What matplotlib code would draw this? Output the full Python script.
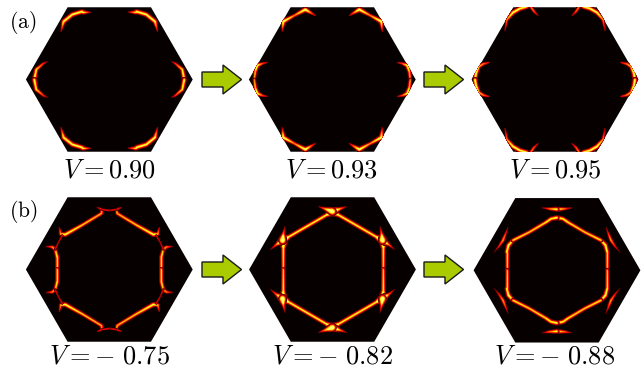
import numpy as np
import matplotlib
matplotlib.use('Agg')
import matplotlib.pyplot as plt
from matplotlib.collections import LineCollection
from matplotlib.patches import Polygon, FancyArrow

plt.rcParams['mathtext.fontset'] = 'cm'

# V values under each panel
top_labels = [r'$V = 0.90$', r'$V = 0.93$', r'$V = 0.95$']
bottom_labels = [r'$V = -\ 0.75$', r'$V = -\ 0.82$', r'$V = -\ 0.88$']

# bright curves, upper right quadrant only, the rest is mirrored
# each point is x, y (up is negative), brightness
a1_curves = [
    [(75, 0, 1), (73, -10, .9), (66, -16, .55), (62, -18, .2)],
    [(19, -68, .3), (27, -68, 1), (37, -65, 1), (45.7, -58, 1), (48.3, -48, .3)],
]
a2_curves = [
    [(78, 0, .7), (77, -8, .8), (75, -14, 1), (70, -16, .6), (65, -17, .3)],
    [(17, -64, .3), (22, -67, .7), (27, -70, 1.1), (38, -64, .7), (49, -58, 1.1), (50, -48, .3)],
]
a3_curves = [
    [(80, 0, 1), (79, -6, 1), (76, -13, .8), (72, -15.5, .7), (66, -17, .4)],
    [(50, -49, .3), (48, -60, .7), (42, -67, 1), (35, -71, 1), (28, -73, 1)],
    [(24, -72.5, .7), (21, -68, .6), (17, -64, .3)],
]
b1_curves = [
    [(52, 0, .9), (52, -12, .9), (54, -20, .8), (57, -22.5, .7), (63, -23, .3)],
    [(12, -62, .3), (7, -60, .6), (8, -56, .8), (27, -44.5, .85), (44, -35, 1), (48.5, -35.5, .8), (50, -42, .3)],
    [(0, -59, .45), (7, -60, .45)],
    [(47, -34, .45), (51, -27, .35), (54, -20, .45)],
]
b2_curves = [
    [(50, 0, .85), (50, -22, .95), (50, -29, 1.7)],
    [(0, -58, 1.7), (6, -54.5, .95), (44, -32.5, .95), (50, -29, 1.7)],
    [(0, -58, 1.7), (7, -60.5, .8), (14, -63, .2)],
    [(50, -29, 1.7), (56, -25, .7), (62, -20, .2)],
    [(50, -29, 1.7), (49, -36, .7), (47.5, -43, .2)],
]
b3_curves = [
    [(50.3, 0, .85), (50.3, -18, .9), (48.5, -25, 1), (44, -30, .9)],
    [(0, -52.7, 1), (6, -51.5, .9), (11, -48, .9), (28, -38, .85), (44, -30, .9)],
    [(0, -61, 1), (8, -61.5, .65), (15, -62.5, .2)],
    [(49, -43, .2), (52, -35, .6), (54, -30, .75), (58, -24, .5), (63, -18, .15)],
]

top_curves = [a1_curves, a2_curves, a3_curves]
bottom_curves = [b1_curves, b2_curves, b3_curves]

WIDTH, HEIGHT = 644, 368
RADIUS = 83.4
top_centers = [(109.3, 79.5), (332.3, 79.5), (555, 79.5)]
bottom_centers = [(109.3, 269.5), (332.5, 269.5), (557, 270.3)]
label_x = [[109, 331, 555], [109, 332.7, 555]]
label_y = [178, 363.5]

# layers from the wide dim glow to the thin hot core
layers = [(3.8, .1), (3, .22), (2.3, .36), (1.7, .5), (1.1, .66), (.6, .82)]


def densify(curve):
    pts = np.array(curve, dtype=float)
    s = np.arange(len(pts))
    t = np.linspace(0, len(pts) - 1, 16 * (len(pts) - 1) + 1)
    return np.column_stack([np.interp(t, s, pts[:, i]) for i in range(3)])


def draw_curve(ax, curve, clip):
    pts = densify(curve)
    for mx, my in [(1, 1), (-1, 1), (1, -1), (-1, -1)]:
        xy = pts[:, :2] * [mx, my]
        segs = np.stack([xy[:-1], xy[1:]], axis=1)
        w = (pts[:-1, 2] + pts[1:, 2]) / 2
        for lw, level in layers:
            lc = LineCollection(segs, cmap='hot', norm=plt.Normalize(0, 1), capstyle='round')
            lc.set_array(np.clip(level * w, 0, .86))
            lc.set_linewidths(lw * np.clip(w, .25, 1.8))
            lc.set_clip_path(clip)
            ax.add_collection(lc)


def draw_panel(fig, center, curves):
    cx, cy = center
    pad = RADIUS + 2
    ax = fig.add_axes([(cx - pad) / WIDTH, 1 - (cy + pad) / HEIGHT, 2 * pad / WIDTH, 2 * pad / HEIGHT])
    ax.set_xlim(-pad, pad)
    ax.set_ylim(pad, -pad)
    ax.axis('off')
    ang = np.radians(np.arange(0, 360, 60))
    hexagon = Polygon(np.column_stack([RADIUS * np.cos(ang), RADIUS * np.sin(ang)]),
                      closed=True, fc='#060000', ec='none')
    ax.add_patch(hexagon)
    for curve in curves:
        draw_curve(ax, curve, hexagon)


fig = plt.figure(figsize=(WIDTH / 100, HEIGHT / 100), dpi=100)

for center, curves in zip(top_centers, top_curves):
    draw_panel(fig, center, curves)
for center, curves in zip(bottom_centers, bottom_curves):
    draw_panel(fig, center, curves)

# overlay in pixel coordinates for the arrows and text
over = fig.add_axes([0, 0, 1, 1])
over.set_xlim(0, WIDTH)
over.set_ylim(HEIGHT, 0)
over.axis('off')
over.patch.set_alpha(0)

for y in [79.5, 269.5]:
    for x in [202, 424]:
        over.add_patch(FancyArrow(x, y, 39.5, 0, width=15, head_width=29, head_length=18.5,
                                  length_includes_head=True, fc='#a9cb00', ec='#1a1a1a', lw=1))

for row, labels in enumerate([top_labels, bottom_labels]):
    for x, lab in zip(label_x[row], labels):
        over.text(x, label_y[row], lab, fontsize=19, ha='center', va='baseline', color='black')

over.text(9, 28, r'$\mathrm{(a)}$', fontsize=15.5, va='baseline', ha='left')
over.text(9, 217, r'$\mathrm{(b)}$', fontsize=15.5, va='baseline', ha='left')

fig.savefig('out.png', dpi=100)
